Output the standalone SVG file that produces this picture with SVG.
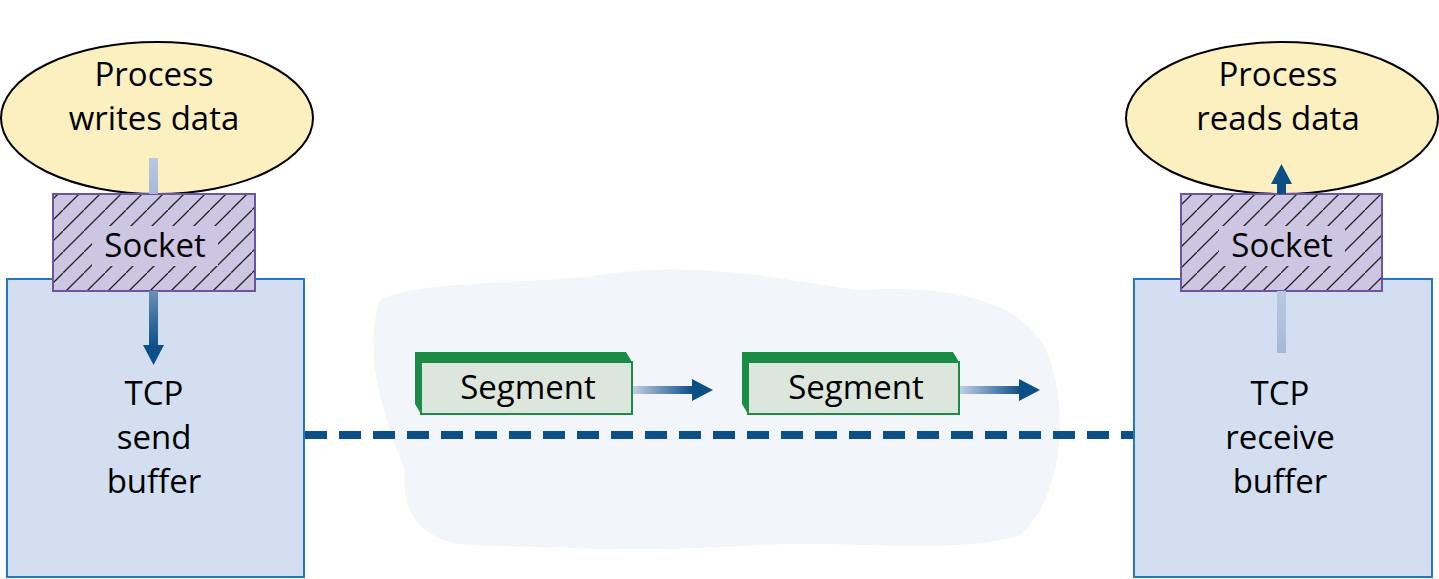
<svg xmlns="http://www.w3.org/2000/svg" width="1439" height="579" viewBox="0 0 1439 579">
<style>
text{font-family:"Open Sans","Noto Sans",sans-serif;font-size:33px;fill:#000;text-anchor:middle}
.proc{fill:#fdf0c0;stroke:#000;stroke-width:2}
.sock{fill:url(#hatch);stroke:#6a559e;stroke-width:2}
.clear{fill:#cdc6e2}
.buf{fill:#d3dff0;stroke:#1f78c1;stroke-width:2}
.segf{fill:#dde6dc;stroke:#1b8c45;stroke-width:2}
.segs{fill:#1b8c45}
</style>
<defs>
<pattern id="hatch" patternUnits="userSpaceOnUse" width="21" height="21">
<rect width="21" height="21" fill="#cdc6e2"/>
<path d="M-2,23 L23,-2" stroke="#222" stroke-width="1.3"/>
</pattern>
<linearGradient id="gdown" x1="0" y1="0" x2="0" y2="1"><stop offset="0" stop-color="#6d8fb8"/><stop offset="1" stop-color="#0b4f86"/></linearGradient>
<linearGradient id="gright" x1="0" y1="0" x2="1" y2="0"><stop offset="0" stop-color="#c3cde6"/><stop offset="1" stop-color="#0b4f86"/></linearGradient>
<linearGradient id="gfaint" x1="0" y1="0" x2="0" y2="1"><stop offset="0" stop-color="#b9c8e0"/><stop offset="1" stop-color="#a6b9d8"/></linearGradient>
</defs>
<path id="cloud" d="M380,300 C420,280 520,285 600,275 C700,260 780,280 860,290 C950,285 1030,300 1050,360 C1070,420 1060,500 1020,535 C960,555 850,540 760,545 C660,552 560,548 470,545 C420,542 400,510 405,470 C390,430 360,360 380,300 Z" fill="#f2f5fa"/>
<g id="left-process"><ellipse class="proc" cx="157" cy="118" rx="156" ry="76"/><text x="154" y="86">Process</text><text x="154" y="130">writes data</text></g>
<g id="right-process"><ellipse class="proc" cx="1282" cy="118" rx="156" ry="76"/><text x="1278" y="86">Process</text><text x="1278" y="130">reads data</text></g>
<g id="send-buffer"><rect class="buf" x="7" y="279" width="297" height="298"/><text x="154" y="405">TCP</text><text x="154" y="449">send</text><text x="154" y="493">buffer</text></g>
<g id="receive-buffer"><rect class="buf" x="1134" y="279" width="298" height="298"/><text x="1280" y="405">TCP</text><text x="1280" y="449">receive</text><text x="1280" y="493">buffer</text></g>
<g id="left-socket"><rect class="sock" x="53" y="194" width="202" height="97"/><rect class="clear" x="92" y="226" width="126" height="40"/><text x="155" y="257">Socket</text></g>
<g id="right-socket"><rect class="sock" x="1181" y="194" width="201" height="97"/><rect class="clear" x="1219" y="226" width="126" height="40"/><text x="1282" y="257">Socket</text></g>
<g id="segment1"><path class="segs" d="M415,352 L626,352 L632,362 L421,362 L421,414 L415,404 Z"/><rect class="segf" x="421" y="362" width="211" height="52"/><text x="528" y="399">Segment</text></g>
<g id="segment2"><path class="segs" d="M742,352 L953,352 L959,362 L748,362 L748,414 L742,404 Z"/><rect class="segf" x="748" y="362" width="211" height="52"/><text x="856" y="399">Segment</text></g>
<g id="connectors">
<rect x="149" y="158" width="9" height="36" fill="url(#gfaint)"/>
<rect x="149" y="291" width="9" height="56" fill="url(#gdown)"/>
<path d="M143,345 L164,345 L153.5,365 Z" fill="#0b4f86"/>
<rect x="1277" y="291" width="9" height="62" fill="url(#gfaint)"/>
<rect x="1277" y="183" width="9" height="11" fill="#0b4f86"/>
<path d="M1271,184 L1292,184 L1281.5,164 Z" fill="#0b4f86"/>
<rect x="633" y="386" width="60" height="8" fill="url(#gright)"/>
<path d="M692,379 L713,390 L692,401 Z" fill="#0b4f86"/>
<rect x="960" y="386" width="61" height="8" fill="url(#gright)"/>
<path d="M1019,379 L1040,390 L1019,401 Z" fill="#0b4f86"/>
<line x1="305" y1="435" x2="1133" y2="435" stroke="#0b4f86" stroke-width="8" stroke-dasharray="22 12"/>
</g>
</svg>
